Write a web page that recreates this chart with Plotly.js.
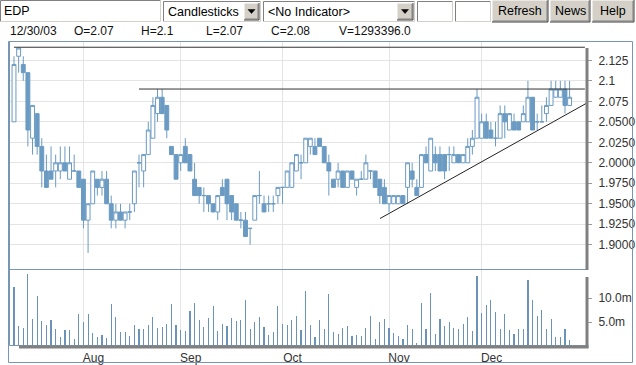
<!DOCTYPE html>
<html><head><meta charset="utf-8">
<script src="https://cdn.plot.ly/plotly-3.0.1.min.js"></script>
<style>html,body{margin:0;padding:0;background:#fff;overflow:hidden}#chart{width:636px;height:365px}</style>
</head><body><div id="chart"></div>
<script>
// ---- data (EDP, trading days 11 Jul 2003 .. 30 Dec 2003) ----
const openP  = [2.05,2.13,2.12,2.11,2.03,2.06,2.02,1.99,1.99,1.99,1.99,2.00,1.98,1.99,1.99,1.98,1.93,1.95,1.98,1.97,
                1.98,1.95,1.93,1.94,1.93,1.94,1.95,2.00,1.99,2.01,2.03,2.06,2.08,2.07,2.02,2.01,2.00,2.02,2.01,1.98,
                1.97,1.96,1.96,1.95,1.94,1.97,1.98,1.96,1.95,1.93,1.93,1.92,1.93,1.96,1.95,1.95,1.95,1.96,1.97,1.97,
                1.97,1.99,2.00,2.00,2.02,2.02,2.03,2.02,2.00,1.98,1.98,1.99,1.97,1.99,1.97,1.98,1.98,1.99,1.99,1.98,
                1.97,1.95,1.95,1.95,1.96,1.97,1.99,1.97,1.97,2.01,1.99,2.01,2.01,2.01,2.01,2.00,2.01,2.00,2.00,2.02,
                2.03,2.03,2.05,2.04,2.03,2.03,2.06,2.04,2.05,2.05,2.05,2.05,2.08,2.05,2.05,2.06,2.07,2.08,2.08,2.09,2.07];
const highP  = [2.13,2.14,2.13,2.11,2.07,2.06,2.03,2.01,2.02,2.01,2.02,2.02,2.02,2.01,1.99,1.98,1.95,1.99,1.98,1.99,
                1.99,1.96,1.95,1.95,1.94,1.95,1.99,2.01,2.01,2.05,2.08,2.09,2.09,2.07,2.02,2.01,2.01,2.03,2.01,2.00,
                1.97,1.97,1.96,1.95,1.96,1.98,1.98,1.96,1.95,1.94,1.94,1.92,1.96,1.99,1.96,1.96,1.96,1.97,1.97,1.99,
                2.00,2.01,2.01,2.03,2.03,2.03,2.03,2.02,2.01,1.98,2.00,1.99,1.99,1.99,1.98,1.99,2.01,1.99,1.99,1.98,
                1.98,1.96,1.96,1.96,1.96,2.00,2.00,1.98,2.01,2.02,2.03,2.02,2.02,2.01,2.02,2.02,2.01,2.01,2.03,2.04,
                2.09,2.06,2.06,2.05,2.05,2.07,2.07,2.06,2.06,2.05,2.07,2.10,2.08,2.06,2.07,2.08,2.10,2.10,2.10,2.10,2.10];
const lowP   = [2.05,2.11,2.10,2.02,2.01,2.01,1.97,1.97,1.98,1.97,1.98,1.99,1.98,1.99,1.97,1.92,1.89,1.95,1.96,1.96,
                1.95,1.92,1.92,1.93,1.92,1.93,1.94,1.97,1.97,2.01,2.03,2.05,2.06,2.03,2.01,1.98,1.99,2.00,1.99,1.96,
                1.95,1.94,1.94,1.94,1.93,1.96,1.93,1.93,1.93,1.92,1.91,1.90,1.93,1.95,1.94,1.94,1.94,1.95,1.95,1.97,
                1.97,1.99,1.98,2.00,2.01,2.01,2.02,2.00,1.96,1.97,1.97,1.97,1.97,1.98,1.96,1.98,1.98,1.98,1.97,1.95,
                1.95,1.94,1.95,1.95,1.95,1.95,1.97,1.96,1.97,2.00,1.99,1.99,1.99,1.98,1.99,2.00,2.00,2.00,2.00,2.01,
                2.03,2.03,2.03,2.03,2.02,2.03,2.03,2.04,2.04,2.04,2.05,2.05,2.04,2.04,2.05,2.05,2.07,2.08,2.08,2.06,2.07];
const closeP = [2.12,2.14,2.11,2.04,2.07,2.02,1.99,1.97,1.98,2.00,2.00,1.99,2.00,1.99,1.97,1.93,1.95,1.99,1.97,1.98,
                1.95,1.93,1.94,1.93,1.94,1.94,1.99,2.00,2.01,2.04,2.07,2.08,2.06,2.04,2.01,1.98,2.01,2.00,1.99,1.96,
                1.96,1.96,1.95,1.94,1.96,1.96,1.95,1.94,1.93,1.93,1.91,1.92,1.96,1.96,1.94,1.95,1.95,1.97,1.97,1.99,
                2.00,2.01,2.00,2.03,2.03,2.01,2.02,2.00,1.99,1.97,1.99,1.97,1.99,1.98,1.98,1.98,2.00,1.99,1.97,1.96,
                1.95,1.96,1.96,1.96,1.95,2.00,1.98,1.96,2.01,2.00,2.03,2.00,1.99,1.99,2.01,2.01,2.00,2.01,2.02,2.03,
                2.08,2.05,2.03,2.03,2.03,2.06,2.05,2.06,2.04,2.04,2.06,2.08,2.04,2.05,2.05,2.07,2.09,2.09,2.09,2.07,2.08];
const volumeM = [12.4,4.2,3.8,15.1,5.7,10.4,5.2,4.3,5.4,3.5,1.9,3.3,3.3,1.5,6.7,5.0,6.7,2.8,1.9,2.3,
                 1.7,8.8,6.1,2.9,2.9,2.1,4.4,3.5,3.6,4.4,6.1,3.8,3.9,4.6,8.8,4.4,3.3,3.2,7.4,9.0,
                 5.4,3.9,5.8,8.3,3.2,4.6,4.2,5.8,5.3,5.4,9.6,3.6,5.0,6.1,4.0,2.4,2.9,8.3,4.6,4.4,
                 5.4,6.3,3.3,11.5,4.4,1.9,5.4,3.5,10.8,2.9,2.5,3.8,4.2,2.1,2.2,2.1,3.8,6.3,1.4,5.0,
                 5.7,3.8,2.8,2.1,1.4,4.3,3.5,0.6,9.0,3.5,11.0,2.6,5.6,4.2,5.0,3.8,3.6,4.6,6.1,3.2,
                 14.7,6.8,8.5,9.6,7.2,3.5,6.7,3.3,2.5,3.6,3.6,13.8,9.6,6.3,7.5,3.6,5.7,1.9,1.9,3.6,1.3];
const dayIdx = openP.map((_, i) => i);
const monthTickIdx = [15, 36, 58, 81, 101];
const monthLabels = ['Aug', 'Sep', 'Oct', 'Nov', 'Dec'];
const priceTicks = [1.9, 1.925, 1.95, 1.975, 2.0, 2.025, 2.05, 2.075, 2.1, 2.125];
const priceTickText = ['1.9000', '1.9250', '1.9500', '1.9750', '2.0000', '2.0250', '2.0500', '2.075', '2.1', '2.125'];
const volTicks = [5, 10];
const volTickText = ['5.0m', '10.0m'];
const topLineX = [0, 123.3],  topLineY = [2.141, 2.141];
const midLineX = [27, 123.3], midLineY = [2.09, 2.09];
const trendX = [79.05, 123.76], trendY = [1.932, 2.073];
const headerTexts = ['12/30/03', 'O=2.07', 'H=2.1', 'L=2.07', 'C=2.08', 'V=1293396.0'];
const toolbarTexts = ['EDP', 'Candlesticks', '<No Indicator>', 'Refresh', 'News', 'Help'];

// ---- layout helpers ----
const L = 10, R = 587, T = 42, B = 346;
const px = x => (x - L) / (R - L);
const py = y => (B - y) / (B - T);
const FONT = 'Liberation Sans, Arial, sans-serif';
const blue = '#6b9bc3';
const frame = '#7896b4';
const shapes = [];
const ann = [];
function rect(x0, y0, x1, y1, fill, line, lw) {
  shapes.push({type: 'rect', xref: 'paper', yref: 'paper', x0: px(x0), x1: px(x1), y0: py(y1), y1: py(y0),
    fillcolor: fill || 'rgba(0,0,0,0)', line: {color: line || 'rgba(0,0,0,0)', width: lw === undefined ? 1 : lw}, layer: 'above'});
}
function seg(x0, y0, x1, y1, color, w) {
  shapes.push({type: 'line', xref: 'paper', yref: 'paper', x0: px(x0), x1: px(x1), y0: py(y0), y1: py(y1),
    line: {color: color, width: w || 1}, layer: 'above'});
}
function tri(cx, cy) {
  const p = [[cx - 3.5, cy - 2], [cx + 3.5, cy - 2], [cx, cy + 2]];
  shapes.push({type: 'path', xref: 'paper', yref: 'paper',
    path: 'M' + p.map(q => px(q[0]) + ',' + py(q[1])).join('L') + 'Z',
    fillcolor: '#000', line: {color: '#000', width: 0.5}, layer: 'above'});
}
function text(t, x, y, size, color, anchor) {
  ann.push({text: t, xref: 'paper', yref: 'paper', x: px(x), y: py(y), xanchor: anchor || 'left', yanchor: 'middle',
    showarrow: false, font: {family: FONT, size: size, color: color || '#000'}, borderpad: 0});
}
function bevelBtn(x0, y0, x1, y1) {
  rect(x0, y0, x1, y1, '#d4d0c8', null, 0);
  seg(x0, y0, x1, y0, '#ffffff'); seg(x0, y0, x0, y1, '#ffffff');
  seg(x0, y1, x1, y1, '#404040'); seg(x1, y0, x1, y1, '#404040');
  seg(x0 + 1, y1 - 1, x1 - 1, y1 - 1, '#808080'); seg(x1 - 1, y0 + 1, x1 - 1, y1 - 1, '#808080');
}
function sunken(x0, y0, x1, y1) {
  rect(x0, y0, x1, y1, '#ffffff', null, 0);
  seg(x0, y0, x1, y0, '#808080'); seg(x0, y0, x0, y1, '#808080');
  seg(x0, y1, x1, y1, '#d4d0c8'); seg(x1, y0, x1, y1, '#d4d0c8');
}
// toolbar
sunken(0.5, 0.5, 160.5, 21.5);
text(toolbarTexts[0], 3, 11, 12.5);
sunken(163.5, 1.5, 260.5, 21.5);
text(toolbarTexts[1], 167, 12, 12.5);
bevelBtn(244, 3, 259, 20); tri(251.5, 11.5);
sunken(263.5, 1.5, 414.5, 21.5);
text(toolbarTexts[2], 267, 12, 12.5);
bevelBtn(397, 3, 413, 20); tri(405, 11.5);
sunken(417.5, 1.5, 452.5, 21.5);
sunken(455.5, 1.5, 490.5, 21.5);
bevelBtn(492, 0, 548, 22); text(toolbarTexts[3], 520, 11, 12.5, '#000', 'center');
bevelBtn(550, 0, 590, 22); text(toolbarTexts[4], 570, 11, 12.5, '#000', 'center');
bevelBtn(592, 0, 634, 22); text(toolbarTexts[5], 613, 11, 12.5, '#000', 'center');
// header info row
const headerX = [9, 73, 140, 205, 270, 338];
headerTexts.forEach((t, k) => text(t, headerX[k], 31, 12, '#111'));
// chart frame
rect(8.5, 41.5, 632.5, 362.5, null, frame, 1);
seg(9.5, 41.5, 9.5, 345.5, frame, 1);
seg(9.5, 269.5, 586, 269.5, frame, 1);
seg(9.5, 345.5, 586, 345.5, frame, 1);
seg(587, 48, 587, 270, '#808080', 3);
seg(587, 277, 587, 348, '#808080', 3);
seg(19, 347, 588.5, 347, '#808080', 3);

const traces = [
  {type: 'candlestick', x: dayIdx, open: openP, high: highP, low: lowP, close: closeP,
   xaxis: 'x', yaxis: 'y', whiskerwidth: 0, hoverinfo: 'skip',
   increasing: {line: {color: blue, width: 1}, fillcolor: '#ffffff'},
   decreasing: {line: {color: blue, width: 1}, fillcolor: blue}},
  {type: 'scatter', mode: 'lines', x: topLineX, y: topLineY, xaxis: 'x', yaxis: 'y',
   line: {color: '#333', width: 1}, hoverinfo: 'skip'},
  {type: 'scatter', mode: 'lines', x: midLineX, y: midLineY, xaxis: 'x', yaxis: 'y',
   line: {color: '#333', width: 1}, hoverinfo: 'skip'},
  {type: 'scatter', mode: 'lines', x: trendX, y: trendY, xaxis: 'x', yaxis: 'y',
   line: {color: '#222', width: 1}, hoverinfo: 'skip'},
  {type: 'bar', x: dayIdx, y: volumeM, xaxis: 'x2', yaxis: 'y2', width: 0.25,
   marker: {color: '#6b93b8', line: {width: 0}}, hoverinfo: 'skip'}
];
const split = (B - 269.5) / (B - T);
const xr = [(L - 14) / 4.63, (R - 14) / 4.63];
const layout = {
  width: 636, height: 365, margin: {l: L, r: 636 - R, t: T, b: 365 - B, pad: 0},
  paper_bgcolor: '#ffffff', plot_bgcolor: '#ffffff', showlegend: false,
  font: {family: FONT, size: 12, color: '#333'},
  boxgap: 0.12, boxgroupgap: 0.05,
  xaxis: {domain: [0, 1], anchor: 'y', range: xr, tickvals: monthTickIdx, ticktext: monthLabels,
    showticklabels: false, showgrid: true, gridcolor: '#e4e4e4', gridwidth: 1, zeroline: false,
    showline: false, ticks: '', rangeslider: {visible: false}, fixedrange: true},
  xaxis2: {domain: [0, 1], anchor: 'y2', matches: 'x', range: xr, tickvals: monthTickIdx, ticktext: monthLabels,
    showgrid: true, gridcolor: '#e4e4e4', zeroline: false, showline: false, ticks: '',
    tickfont: {family: FONT, size: 12, color: '#333'}, ticklabelshift: 10, ticklabelstandoff: 3},
  yaxis: {domain: [split, 1], anchor: 'x', side: 'right', range: [1.8698, 2.1474],
    tickvals: priceTicks, ticktext: priceTickText, showgrid: true, gridcolor: '#e4e4e4', zeroline: false,
    showline: false, ticks: 'outside', ticklen: 4, tickcolor: '#9a9a9a',
    tickfont: {family: FONT, size: 12, color: '#333'}, ticklabelstandoff: 4},
  yaxis2: {domain: [0, split], anchor: 'x2', side: 'right', range: [0, 16],
    tickvals: volTicks, ticktext: volTickText, showgrid: false, zeroline: false, showline: false,
    ticks: 'outside', ticklen: 4, tickcolor: '#9a9a9a',
    tickfont: {family: FONT, size: 12, color: '#333'}, ticklabelstandoff: 4},
  shapes: shapes, annotations: ann, bargap: 0
};
Plotly.newPlot('chart', traces, layout, {staticPlot: true, displayModeBar: false});
</script></body></html>
